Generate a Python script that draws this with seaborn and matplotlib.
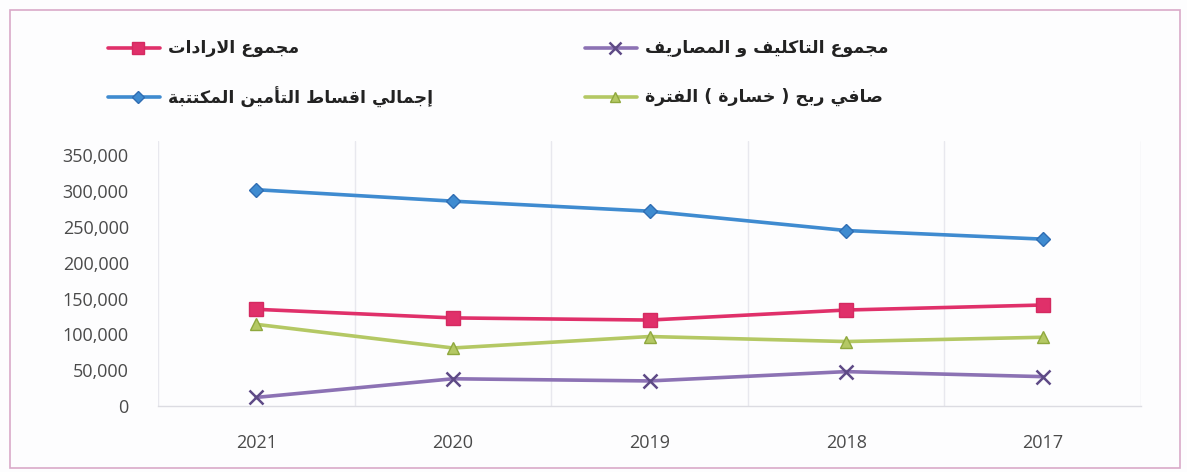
import numpy as np
import pandas as pd
import matplotlib
matplotlib.use("Agg")
import matplotlib.pyplot as plt
import seaborn as sns
from matplotlib.lines import Line2D
from matplotlib.patches import Rectangle

# ---------------- data ----------------
years = ["2021", "2020", "2019", "2018", "2017"]
revenue = [135000, 123000, 120000, 134000, 141000]        # مجموع الارادات
costs = [12000, 38000, 35000, 48000, 41000]                # مجموع التاكليف و المصاريف
premiums = [302000, 286000, 272000, 245000, 233000]        # إجمالي اقساط التأمين المكتتبة
net_profit = [114000, 81000, 97000, 90000, 96000]          # صافي ربح ( خسارة ) الفترة
y_ticks = [0, 50000, 100000, 150000, 200000, 250000, 300000, 350000]
y_tick_labels = ["0", "50,000", "100,000", "150,000", "200,000", "250,000", "300,000", "350,000"]

lbl_revenue = "مجموع الارادات"
lbl_costs = "مجموع التاكليف و المصاريف"
lbl_premiums = "إجمالي اقساط التأمين المكتتبة"
lbl_profit = "صافي ربح ( خسارة ) الفترة"

# ---------------- minimal Arabic shaping (visual order) ----------------
FORMS = {
    "\u0627": ("\uFE8D", "\uFE8E"), "\u0623": ("\uFE83", "\uFE84"), "\u0625": ("\uFE87", "\uFE88"),
    "\u0628": ("\uFE8F", "\uFE90", "\uFE91", "\uFE92"), "\u0629": ("\uFE93", "\uFE94"),
    "\u062A": ("\uFE95", "\uFE96", "\uFE97", "\uFE98"), "\u062C": ("\uFE9D", "\uFE9E", "\uFE9F", "\uFEA0"),
    "\u062D": ("\uFEA1", "\uFEA2", "\uFEA3", "\uFEA4"), "\u062E": ("\uFEA5", "\uFEA6", "\uFEA7", "\uFEA8"),
    "\u062F": ("\uFEA9", "\uFEAA"), "\u0631": ("\uFEAD", "\uFEAE"),
    "\u0633": ("\uFEB1", "\uFEB2", "\uFEB3", "\uFEB4"), "\u0635": ("\uFEB9", "\uFEBA", "\uFEBB", "\uFEBC"),
    "\u0637": ("\uFEC1", "\uFEC2", "\uFEC3", "\uFEC4"), "\u0639": ("\uFEC9", "\uFECA", "\uFECB", "\uFECC"),
    "\u0641": ("\uFED1", "\uFED2", "\uFED3", "\uFED4"), "\u0642": ("\uFED5", "\uFED6", "\uFED7", "\uFED8"),
    "\u0643": ("\uFED9", "\uFEDA", "\uFEDB", "\uFEDC"), "\u0644": ("\uFEDD", "\uFEDE", "\uFEDF", "\uFEE0"),
    "\u0645": ("\uFEE1", "\uFEE2", "\uFEE3", "\uFEE4"), "\u0646": ("\uFEE5", "\uFEE6", "\uFEE7", "\uFEE8"),
    "\u0648": ("\uFEED", "\uFEEE"), "\u064A": ("\uFEF1", "\uFEF2", "\uFEF3", "\uFEF4"),
}
LAM_ALEF = {"\u0627": ("\uFEFB", "\uFEFC"), "\u0623": ("\uFEF7", "\uFEF8"), "\u0625": ("\uFEF9", "\uFEFA")}


def shape(text):
    toks = []
    i = 0
    while i < len(text):
        c = text[i]
        if c == "\u0644" and i + 1 < len(text) and text[i + 1] in LAM_ALEF:
            toks.append(LAM_ALEF[text[i + 1]])
            i += 2
            continue
        toks.append(FORMS.get(c, c))
        i += 1
    out = []
    for k, t in enumerate(toks):
        if isinstance(t, str):
            out.append(t)
            continue
        prev = toks[k - 1] if k > 0 else None
        nxt = toks[k + 1] if k + 1 < len(toks) else None
        pj = isinstance(prev, tuple) and len(prev) == 4
        nj = len(t) == 4 and isinstance(nxt, tuple)
        if pj and nj:
            out.append(t[3])
        elif pj:
            out.append(t[1])
        elif nj:
            out.append(t[2])
        else:
            out.append(t[0])
    vis = "".join(reversed(out))
    return vis.translate(str.maketrans("()", ")("))


# ---------------- figure ----------------
sns.set_style("white")
W, H = 1187, 472
fig = plt.figure(figsize=(W / 100, H / 100), dpi=100)
fig.patch.set_facecolor("#fdfdfe")

ax = fig.add_axes([158 / W, (H - 406) / H, (1141 - 158) / W, (406 - 141) / H])
ax.set_facecolor("#fdfdfe")

x = np.arange(len(years))
series = [
    (revenue, "#e0306a", "s", 10, "#d42a60", 1.0),
    (costs, "#8c72b4", "x", 10, "#5e4a86", 1.8),
    (premiums, "#3f8bd0", "D", 7, "#2f6db3", 1.0),
    (net_profit, "#b4c864", "^", 9, "#8fa83e", 1.0),
]
for vals, col, mk, ms, mec, mew in series:
    sns.lineplot(x=x, y=vals, ax=ax, color=col, lw=2.6, marker=mk, markersize=ms,
                 markeredgecolor=mec, markerfacecolor=col if mk != "x" else mec,
                 markeredgewidth=mew, legend=False)

ax.set_xlim(-0.5, len(years) - 0.5)
ax.set_ylim(0, 370000)
ax.set_xticks(x)
ax.set_xticklabels(years)
ax.set_yticks(y_ticks)
ax.set_yticklabels(y_tick_labels)
ax.set_xticks(np.arange(-0.5, len(years), 1.0), minor=True)
ax.grid(False)
ax.grid(which="minor", axis="x", color="#e8e8ee", lw=1)
ax.tick_params(axis="both", which="both", length=0)
ax.tick_params(axis="y", pad=21, labelsize=13, labelcolor="#4a4a4a")
ax.tick_params(axis="x", pad=20, labelsize=13, labelcolor="#4a4a4a")
for lab in ax.get_xticklabels() + ax.get_yticklabels():
    lab.set_family("Open Sans")
for s in ["top", "right", "left"]:
    ax.spines[s].set_visible(False)
ax.spines["bottom"].set_color("#dcdce2")
ax.spines["bottom"].set_linewidth(1)
ax.set_xlabel("")
ax.set_ylabel("")

# ---------------- legend (manual, two rows x two columns) ----------------
legend_items = [
    (lbl_revenue, series[0], 108, 48),
    (lbl_costs, series[1], 585, 48),
    (lbl_premiums, series[2], 108, 97),
    (lbl_profit, series[3], 585, 97),
]
for label, (vals, col, mk, ms, mec, mew), px, py in legend_items:
    yf = 1 - py / H
    fig.add_artist(Line2D([px / W, (px + 52) / W], [yf, yf], transform=fig.transFigure,
                          color=col, lw=2.6))
    fig.add_artist(Line2D([(px + 30) / W], [yf], transform=fig.transFigure, marker=mk,
                          markersize=ms * 0.85, color=col,
                          markerfacecolor=col if mk != "x" else mec,
                          markeredgecolor=mec, markeredgewidth=mew, lw=0))
    fig.text((px + 60) / W, yf, shape(label), ha="left", va="center", fontsize=12.5,
             fontweight="bold", family=["DejaVu Sans"], color="#222222")

# frame
fig.add_artist(Rectangle((10 / W, 4 / H), (1180 - 10) / W, (462 - 4) / H,
                         transform=fig.transFigure, fill=False, edgecolor="#d9a9c9", lw=1.2))

fig.savefig("out.png", dpi=100, facecolor=fig.get_facecolor())
